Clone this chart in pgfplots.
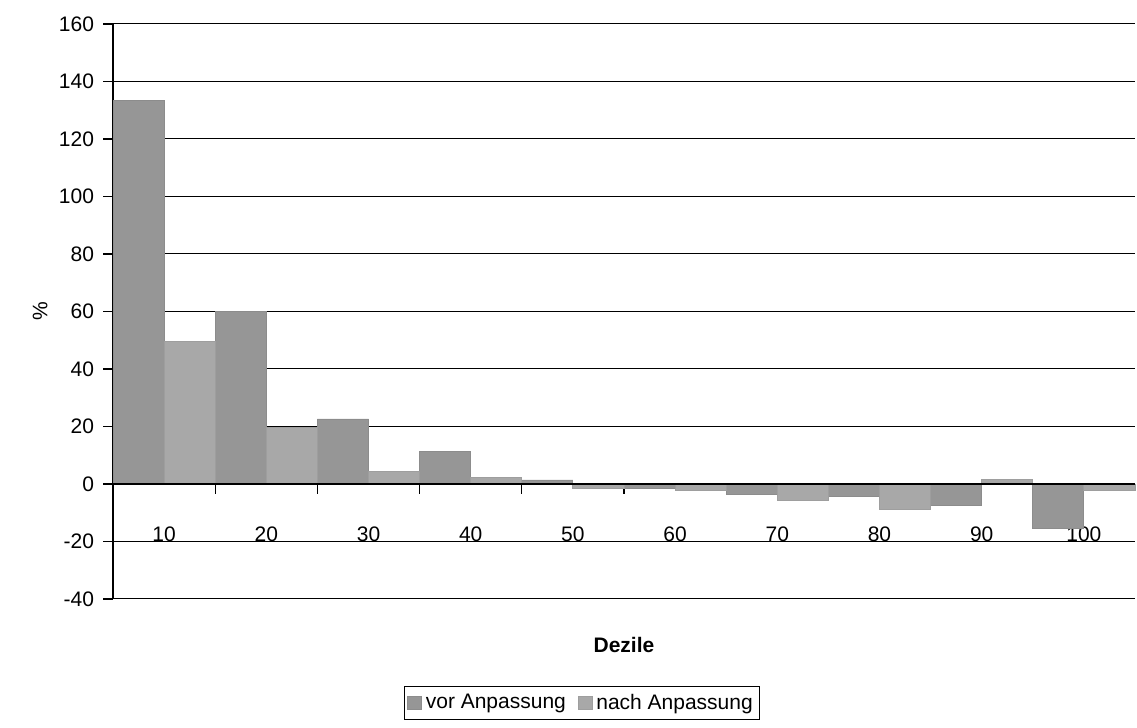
\documentclass[border=0pt]{standalone}
\usepackage{pgfplots}
\pgfplotsset{compat=1.18}
\usepackage{fontspec}
\setmainfont{Liberation Sans}
\definecolor{vorc}{HTML}{969696}
\definecolor{nachc}{HTML}{A8A8A8}
\begin{document}
\begin{tikzpicture}
\begin{axis}[
  scale only axis, width=511pt, height=287.5pt,
  clip=false,
  xmin=0.5, xmax=10.5, ymin=-40, ymax=160,
  axis x line=middle, axis y line=left,
  x axis line style={-, line width=0.8pt},
  y axis line style={-, line width=0.8pt},
  font=\fontsize{10.5}{12}\selectfont,
  /pgf/number format/assume math mode=true,
  ytick={-40,-20,...,160},
  ymajorgrids, grid style={black, line width=0.5pt},
  xtick={1,...,10}, xticklabels={10,20,30,40,50,60,70,80,90,100},
  major x tick style={draw=none},
  minor xtick={1.5,2.5,...,9.5},
  minor x tick style={black, line width=0.6pt},
  minor tick length=5pt,
  ytick style={black, line width=0.6pt},
  major tick length=5pt,
  tick align=outside,
  xticklabel style={yshift=-13pt},
  yticklabel style={xshift=-1pt},
  xlabel={\bfseries Dezile},
  xlabel style={at={(rel axis cs:0.5,0)}, anchor=center, yshift=-23pt},
  ylabel={\%},
  ylabel style={at={(rel axis cs:-0.0714,0.5)}, anchor=center},
  legend style={at={(rel axis cs:0.459,-0.181)}, anchor=center, legend columns=2,
    draw=black, line width=0.5pt, inner sep=1.5pt, font=\fontsize{10.5}{12}\selectfont,
    /tikz/every even column/.append style={column sep=4pt}},
  legend image code/.code={\draw[#1, line width=0.4pt] (0cm,-0.12cm) rectangle (0.24cm,0.12cm);},
]
\addplot[ybar, bar width=0.5, bar shift=-0.25, fill=vorc, draw=black!45, line width=0.4pt]
  coordinates {(1,133.5) (2,60) (3,22.6) (4,11.2) (5,1.4) (6,-1.5) (7,-3.8) (8,-4.5) (9,-7.3) (10,-15.4)};
\addlegendentry{vor Anpassung}
\addplot[ybar, bar width=0.5, bar shift=0.25, fill=nachc, draw=black!38, line width=0.4pt]
  coordinates {(1,49.7) (2,19.5) (3,4.2) (4,2.4) (5,-1.7) (6,-2.4) (7,-5.8) (8,-8.7) (9,1.6) (10,-2.1)};
\addlegendentry{nach Anpassung}
\draw[black, line width=0.8pt] (axis cs:0.5,0) -- (axis cs:10.5,0);
\path (rel axis cs:-0.1106,-0.2243) rectangle (rel axis cs:1.002,1.0417);
\end{axis}
\end{tikzpicture}
\end{document}
